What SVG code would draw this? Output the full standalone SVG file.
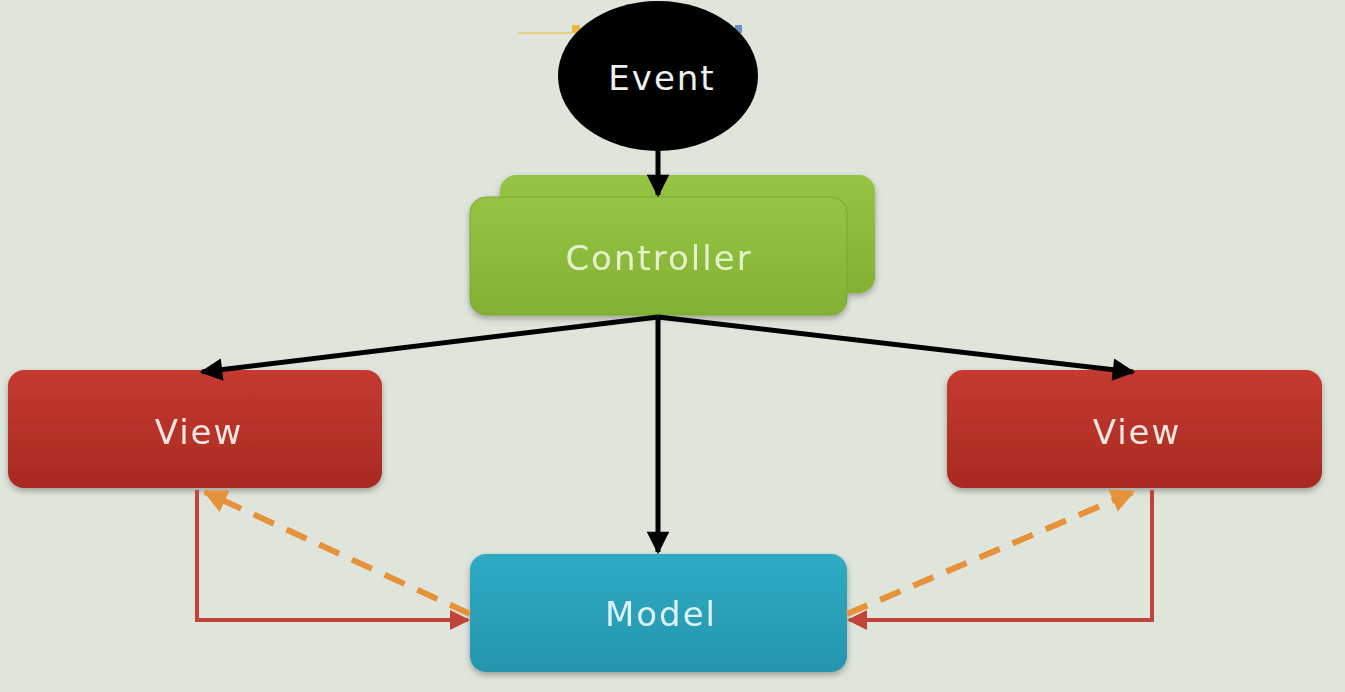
<svg xmlns="http://www.w3.org/2000/svg" width="1345" height="692" viewBox="0 0 1345 692">
<style>
.lbl{font-family:"DejaVu Sans","Open Sans",sans-serif;font-size:34px;letter-spacing:2px;text-anchor:middle;dominant-baseline:central}
.blk{stroke:#000;stroke-width:5;fill:none}
.red{stroke:#c0443a;stroke-width:4;fill:none}
.org{stroke:#e6923a;stroke-width:6;fill:none;stroke-dasharray:22 14}
</style>
<defs>
<linearGradient id="gG" x1="0" y1="0" x2="0" y2="1"><stop offset="0" stop-color="#96c443"/><stop offset="1" stop-color="#82b133"/></linearGradient>
<linearGradient id="gR" x1="0" y1="0" x2="0" y2="1"><stop offset="0" stop-color="#c53a30"/><stop offset="1" stop-color="#a82a22"/></linearGradient>
<linearGradient id="gB" x1="0" y1="0" x2="0" y2="1"><stop offset="0" stop-color="#2eabc3"/><stop offset="1" stop-color="#2596ae"/></linearGradient>
<filter id="sh" x="-10%" y="-10%" width="120%" height="130%"><feDropShadow dx="0" dy="3" stdDeviation="3" flood-color="#000" flood-opacity="0.3"/></filter>
<marker id="aB" viewBox="0 0 10 10" refX="9" refY="5" markerWidth="5" markerHeight="4.5" orient="auto" markerUnits="strokeWidth"><path d="M0,0L10,5L0,10z" fill="#000"/></marker>
<marker id="aR" viewBox="0 0 10 10" refX="9" refY="5" markerWidth="6" markerHeight="5" orient="auto" markerUnits="strokeWidth"><path d="M0,0L10,5L0,10z" fill="#c0443a"/></marker>
<marker id="aO" viewBox="0 0 10 10" refX="9" refY="5" markerWidth="4.5" markerHeight="4" orient="auto" markerUnits="strokeWidth"><path d="M0,0L10,5L0,10z" fill="#e6923a"/></marker>
</defs>
<rect width="1345" height="692" fill="#e0e5dc"/>
<line x1="518" y1="33" x2="572" y2="33" stroke="#e8c860" stroke-width="1.5"/>
<rect x="572" y="25" width="8" height="8" fill="#e8b840"/>
<rect x="735" y="25" width="7" height="8" fill="#6a90c0"/>

<g id="event">
<ellipse cx="658" cy="76" rx="100" ry="75" fill="#000"/>
<text class="lbl" x="662" y="78" fill="#eef0f0">Event</text>
</g>
<g id="controller" filter="url(#sh)">
<rect x="500" y="175" width="375" height="118" rx="16" fill="url(#gG)"/>
<rect x="470" y="197" width="377" height="118" rx="16" fill="url(#gG)" stroke="#7aa530" stroke-width="1"/>
<text class="lbl" x="659" y="258" fill="#e4f2cc">Controller</text>
</g>
<g id="view-left" filter="url(#sh)">
<rect x="8" y="370" width="374" height="118" rx="16" fill="url(#gR)"/>
<text class="lbl" x="199" y="432" fill="#f6e6e2">View</text>
</g>
<g id="view-right" filter="url(#sh)">
<rect x="947" y="370" width="375" height="118" rx="16" fill="url(#gR)"/>
<text class="lbl" x="1137" y="432" fill="#f6e6e2">View</text>
</g>
<g id="model" filter="url(#sh)">
<rect x="470" y="554" width="377" height="118" rx="16" fill="url(#gB)"/>
<text class="lbl" x="661" y="614" fill="#dcf2f6">Model</text>
</g>
<g id="connectors">
<line class="blk" x1="658" y1="150" x2="658" y2="195" marker-end="url(#aB)"/>
<line class="blk" x1="658" y1="317" x2="202" y2="372" marker-end="url(#aB)"/>
<line class="blk" x1="658" y1="317" x2="1133" y2="372" marker-end="url(#aB)"/>
<line class="blk" x1="658" y1="317" x2="658" y2="552" marker-end="url(#aB)"/>
<polyline class="red" points="197,490 197,620 468,620" marker-end="url(#aR)"/>
<polyline class="red" points="1152,490 1152,620 849,620" marker-end="url(#aR)"/>
<line class="org" x1="470" y1="614" x2="205" y2="492" marker-end="url(#aO)"/>
<line class="org" x1="847" y1="614" x2="1133" y2="492" marker-end="url(#aO)"/>
</g>
</svg>
